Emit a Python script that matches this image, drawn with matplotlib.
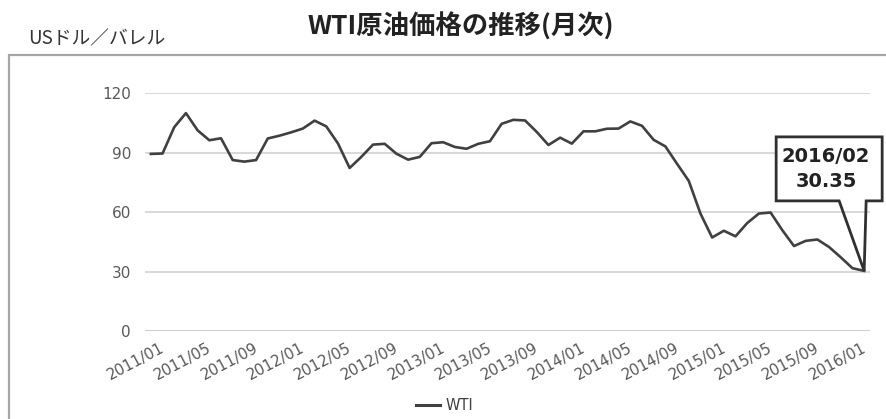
import matplotlib
matplotlib.use("Agg")
import matplotlib.pyplot as plt
import matplotlib.transforms as mtransforms
from matplotlib.patches import Polygon, Rectangle
from matplotlib.lines import Line2D

plt.rcParams['font.family'] = ['Noto Sans CJK JP', 'DejaVu Sans']

# ---- data ----
years = [2011, 2012, 2013, 2014, 2015, 2016]
months = [f"{y}/{m:02d}" for y in years for m in range(1, 13)][:62]
wti_2011 = [89.4, 89.6, 102.9, 110.0, 101.3, 96.3, 97.3, 86.3, 85.5, 86.3, 97.2, 98.6]
wti_2012 = [100.3, 102.2, 106.2, 103.3, 94.7, 82.3, 87.9, 94.1, 94.5, 89.5, 86.5, 87.9]
wti_2013 = [94.8, 95.3, 92.9, 92.0, 94.5, 95.8, 104.6, 106.6, 106.3, 100.5, 93.9, 97.6]
wti_2014 = [94.6, 100.8, 100.8, 102.1, 102.2, 105.8, 103.6, 96.5, 93.2, 84.4, 75.8, 59.3]
wti_2015 = [47.2, 50.6, 47.8, 54.5, 59.3, 59.8, 50.9, 42.9, 45.5, 46.2, 42.4, 37.2]
wti_2016 = [31.7, 30.35]
wti = wti_2011 + wti_2012 + wti_2013 + wti_2014 + wti_2015 + wti_2016
y_ticks = [0, 30, 60, 90, 120]
tick_step = 4
title = "WTI原油価格の推移(月次)"
y_unit = "USドル／バレル"
series_name = "WTI"
callout_text = "2016/02\n30.35"

W, H = 886, 419
fig = plt.figure(figsize=(W / 100, H / 100), dpi=100)
fig.patch.set_facecolor('white')

ax = fig.add_axes([145 / W, (H - 331) / H, 725 / W, (331 - 93.3) / H])
x = list(range(len(wti)))
line_color = '#404040'
ax.plot(x, wti, color=line_color, lw=1.9, solid_joinstyle='round', zorder=3)
ax.set_xlim(-0.5, len(wti) - 0.5)
ax.set_ylim(0, 120)
ax.set_yticks(y_ticks)
ax.set_yticklabels([str(v) for v in y_ticks], color='#595959', fontsize=11,
                   family=['DejaVu Sans'])
for v in y_ticks:
    if v == 0:
        ax.axhline(v, color='#bdbdbd', lw=1.8, zorder=1)
    else:
        ax.axhline(v, color='#d9d9d9', lw=1.5, zorder=1)
for s in ax.spines.values():
    s.set_visible(False)
ax.tick_params(axis='both', length=0)
ax.tick_params(axis='y', pad=10)
xt = list(range(0, len(wti), tick_step))
ax.set_xticks(xt)
ax.set_xticklabels([months[i] for i in xt], rotation=28, ha='right',
                   rotation_mode='anchor', color='#595959', fontsize=10.8,
                   family=['DejaVu Sans'])
ax.tick_params(axis='x', pad=7)
shift = mtransforms.ScaledTranslation(9 / 100, 0, fig.dpi_scale_trans)
for lbl in ax.get_xticklabels():
    lbl.set_transform(lbl.get_transform() + shift)
ax.patch.set_alpha(0)

# outer frame
fig.add_artist(Rectangle((9 / W, -0.1), (W + 20) / W, (H - 55) / H + 0.1,
                         transform=fig.transFigure, fill=False,
                         edgecolor='#a6a6a6', lw=1.6, zorder=0))

# title and unit label
fig.text(461 / W, 1 - 27 / H, title, ha='center', va='center', fontsize=19,
         fontweight='bold', color='#222222')
fig.text(28 / W, 1 - 39 / H, y_unit, ha='left', va='center', fontsize=13.5,
         color='#333333')

# legend
leg_y = 1 - 405 / H
fig.add_artist(Line2D([416 / W, 440 / W], [leg_y, leg_y], color=line_color, lw=2.2,
                      transform=fig.transFigure))
fig.text(446 / W, leg_y, series_name, ha='left', va='center', fontsize=10.5,
         color='#404040', family=['DejaVu Sans'])

# callout pointing to the last data point
fig.canvas.draw()
px, py = ax.transData.transform((x[-1], wti[-1]))
bx0, bx1 = px - 88, px + 18
by_top = py + (271 - 137)
by_bot = py + (271 - 201)
inv = fig.transFigure.inverted()
(fx0, fy0) = inv.transform((bx0, by_bot))
(fx1, fy1) = inv.transform((bx1, by_top))
fig.add_artist(Rectangle((fx0, fy0), fx1 - fx0, fy1 - fy0, transform=fig.transFigure,
                         facecolor='white', edgecolor='none', zorder=5))
poly = [(bx0, by_top), (bx1, by_top), (bx1, by_bot), (px + 2, by_bot), (px, py),
        (px - 25, by_bot), (bx0, by_bot)]
poly_fig = [inv.transform(p) for p in poly]
fig.add_artist(Polygon(poly_fig, closed=True, transform=fig.transFigure,
                       fill=False, edgecolor='#303030', lw=2.0, zorder=6,
                       joinstyle='miter'))
cx, cy = inv.transform(((bx0 + bx1) / 2 - 3, (by_top + by_bot) / 2))
fig.text(cx, cy, callout_text, ha='center', va='center', fontsize=14,
         fontweight='bold', color='#222222', family=['DejaVu Sans'],
         linespacing=1.35, zorder=7)

fig.savefig('out.png', dpi=100)
